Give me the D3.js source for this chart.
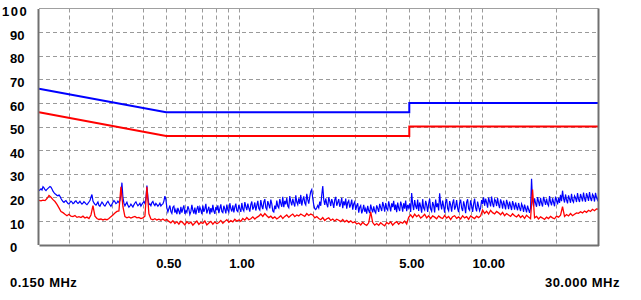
<!DOCTYPE html>
<html><head><meta charset="utf-8">
<script src="https://cdn.jsdelivr.net/npm/d3@7"></script>
<style>
html,body{margin:0;padding:0;background:#fff;}
svg{display:block;}
text{font-family:"Liberation Sans",Arial,sans-serif;font-weight:bold;font-size:13px;fill:#000;}
</style></head>
<body>
<svg id="c" width="641" height="300"></svg>
<script>
// ---- data ----
const freqMin = 0.15, freqMax = 30;           // MHz sweep
const yTicks = [0,10,20,30,40,50,60,70,80,90,100];
const xLabelTicks = [0.5, 1, 5, 10];
const xLabelText = ["0.50","1.00","5.00","10.00"];
const xGridTicks = [0.2,0.3,0.4,0.5,0.6,0.7,0.8,0.9,1,2,3,4,5,6,7,8,9,10,20];
const startLabel = "0.150 MHz", endLabel = "30.000 MHz";

// limit lines [MHz, dBuV]
const limitQP = [[0.15,66],[0.5,56],[5,56],[5,60],[30,60]];
const limitAV = [[0.15,56],[0.5,46],[5,46],[5,50],[30,50]];

// measured peak trace (dBuV), sweep points log-spaced from 0.15 to 30 MHz
const traceBlue = [
22.8,23.2,23.6,23.1,24.5,24,23.2,22.8,23.4,23.8,24.2,24.6,24.3,23.5,22.6,22,21.5,21.2,20.8,20.6,
21,20.4,19.5,18.8,18.2,17.8,18.3,18.6,17.9,17.4,17.2,17.8,18.4,18,17.3,17.6,18.2,18.5,17.8,17.4,
17.8,18.3,17.6,17.1,17.5,18.1,17.7,17.2,16.9,17.4,18,18.6,20,21.2,18.4,17.6,17,16.7,17.3,18,
16.6,16.2,17.2,18,17.4,16.7,16.3,17,17.8,18.3,17.5,16.8,16.2,17.1,17.9,18.6,18.1,17.3,17.6,18.4,
17.8,18.5,21,26.2,20,17.5,16.4,17.2,17.9,16.6,15.8,16.3,17.1,16.5,15.9,16.8,17.6,18.1,17.2,16.4,
16.9,17.5,16.3,17,17.6,18.2,17.4,19.5,25,20,16.8,17.2,16.4,17.8,18.3,17.1,16.5,17.4,16.9,16.2,
16.8,17.5,16.3,16.9,17.2,18.4,20.5,19,15.5,13.8,15.2,16.5,14,13.2,15.8,16.3,13.5,14.8,12.9,15.5,
14.2,12.8,16,13.5,15.2,16.6,12.9,14.4,13.6,16.2,15,12.7,13.9,16.8,14.5,13.1,15.6,12.8,14.9,16.3,
13.4,15.8,14.6,12.9,16.5,13.8,15.1,17.2,13.2,14.7,16,12.8,15.4,13.6,16.8,14.2,13,15.9,14.5,16.6,
13.3,15.2,17,14,13.5,16.4,15,13.2,16.9,14.6,13.8,17.5,15.2,14,16.6,13.6,15.8,17.3,14.4,13.9,
16.8,15.2,13.8,17.6,15,14.2,18,16.1,14.6,17.3,15.5,13.9,16.9,18.2,14.8,15.9,17.8,14.4,16.5,18.5,
15.2,14.6,18.8,16.4,15,17.9,19.2,15.6,14.8,18.4,16.9,15.3,19,17.2,14.2,13.8,16.5,15,18.6,16.2,
15.5,19.3,17.4,16,20.2,15.8,18.5,17,19.8,16.3,15.6,20.5,18.2,16.6,19.4,17.5,16.1,20.8,18,16.9,
19.6,17.2,21,16.5,18.8,20.4,17.6,16.8,21.5,19,17.3,20.2,22.5,23.3,19.5,16.8,15.2,14.8,15.6,16.5,
15.5,18.2,16.4,21,24.8,19,16.8,19.5,17.2,15.8,20,18.4,16.3,19.2,17.6,15.5,18.9,20.2,16.4,17.8,
19.2,16,17.4,19.8,15.4,18.3,16.6,19.5,15.2,17.8,18.6,15.6,16.9,19,14.8,17.2,18.1,14.6,16.4,17.5,
13.5,15.8,16.5,13.2,14.6,16.8,13.9,15.2,13.1,16.4,14.4,13.3,16.9,15,13.6,16.2,14.1,13.4,16.6,15.3,
13.8,17.2,15.6,14.2,18,16.4,13.9,17.6,15.1,14.5,18.3,16.2,14,17.4,15.8,18.5,14.6,16.9,13.7,17.8,
15.4,14.2,18.2,16.6,13.9,17.5,15.2,18.6,14.1,16.8,15.5,17.4,13.8,21.8,17,14.6,18.8,16.3,15,19,
14.2,17.8,16,13.5,19.2,15.4,14.6,18.5,16.9,13.8,17.2,19.4,15,14.1,18,16.6,13.6,19,15.8,17.4,
14.4,21.7,17.3,14.9,18.6,16.2,13.5,17.9,19.3,15.2,14.3,18.4,16.8,13.9,17.5,19.1,14.8,16.1,18.8,15.3,
13.7,17.6,19,15.5,14.2,18.3,16.4,13.3,17.9,19.2,15.1,14.5,18.7,16.6,13.8,17.1,19.4,15.6,14,18.2,
16.2,14.3,15.5,18.8,17.2,20,16.4,19.4,17.8,15.6,19.9,18.2,16.1,20.3,17.4,15.8,19.2,18.5,16.3,19.7,
17,15.4,19.1,17.7,15.2,18.6,16.8,14.9,18.9,17.3,15,18.2,16.4,14.6,18.4,16.9,14.8,17.8,16,14.5,
17.6,15.6,14.2,17.2,16.1,13.8,16.9,15.2,13.6,16.5,14.9,13.4,15.5,27.8,18.5,16.2,19.6,17.4,16,20.1,
18.2,16.3,19.8,17.5,16.1,20.2,18.6,16.8,19.4,17.2,16.4,20.5,18,16.6,19.6,17.9,16.2,20.3,18.7,17,
19.8,17.6,21,18.4,22.8,19.5,17.8,21.2,18.9,17.4,20.8,19.3,17.7,21.5,18.6,17.9,20.6,19.8,18,21.8,
19.2,18,21.4,20,18.3,22,19.5,18.1,21.7,20.4,18.5,22.2,19.7,18.4,21.3,20.6,18.2,21.9,19.9,18.8,
20.5];
// measured average trace (dBuV), sweep points log-spaced from 0.15 to 30 MHz
const traceRed = [
18.7,18.5,18.8,18.6,19.5,20.8,20,19,18.2,17,
15.5,14,13.5,12.8,12.2,12.8,12,11.8,12.3,11.5,
11.8,11.4,12,11.2,11.6,11,12.5,16.5,12,11,
10.6,10.8,10.4,10.7,10.5,11,11.8,12.5,13.3,14,
14.2,24.5,16,11.8,11.3,11.7,11.2,11.6,11.9,11.3,
11.5,11,11.3,12,24.5,13,10.8,10.5,10.9,10.4,
10.7,10.3,10.8,10.2,10.6,9.8,9.2,10.1,8.9,9.7,
8.6,9.9,9.2,8.3,9.7,8.8,9.5,8.2,9.1,9.9,
8.5,9.4,8.9,10,8.3,9.1,9.8,8.6,9.6,8.8,
9.3,10.2,9,9.8,10.5,9.4,10.1,9.6,10.7,9.9,
10.4,9.8,11,10.3,11.4,10.5,10.9,11.7,10.8,11.5,
12,12.9,11.9,13.1,12.2,11.4,12,11.1,11.7,10.8,
11.4,12.2,11,11.9,12.5,11.5,12.3,12.9,11.8,12.5,
12.1,12.9,12.4,11.9,13.1,12.3,12.9,12.5,11.3,11.8,
11,10.5,11.4,10.2,10.9,11.3,10.2,10.8,10,10.7,
10.3,9.7,10.6,9.6,10.2,9.4,10,9.2,9.6,8.7,
9.1,8.3,9.4,8.6,8.1,9.2,13.8,9.3,8.2,8.9,
8.1,9.2,8.5,7.9,9.3,8.7,9.6,8.2,9.1,9.7,
8.6,9.5,9,9.9,8.7,11.5,12.6,11.4,12.9,11.8,
12.5,11.2,11.9,12.8,11.3,12.2,11,12.1,11.6,10.9,
12.1,11.4,11,12.3,11.2,11.9,10.6,11.8,12.2,11.1,
11.7,10.8,12.2,11.3,11.8,10.7,12.1,11.5,11,12,
11.4,12.1,14.6,13.2,14.1,12.9,14.5,13.5,13,14,
13.4,12.6,13.6,12.2,13.1,12.5,11.9,13,12.2,11.7,
12.6,11.4,12.2,11.1,12.4,11.6,10.9,23.3,11.3,11.9,
10.8,11.7,11.2,10.6,11.6,11,11.9,11.3,10.9,12,
11.6,12.4,16,11.9,12.7,12.1,13.1,12.2,12.8,13.4,
13.2,13.9,13.4,14.2,13.6,14.5,14,14.9,14.3,15.1,
15];

// ---- chart ----
const svg = d3.select("#c");
const L = 39, R = 598.5, T = 8.5, B = 244.5;
const x = d3.scaleLog().domain([freqMin, freqMax]).range([L, R]);
const y = d3.scaleLinear().domain([0, 100]).range([B, T]);

const sweepF = (n, i) => freqMin * Math.pow(freqMax / freqMin, i / (n - 1));
const toPts = arr => arr.map((v, i) => [sweepF(arr.length, i), v]);

// grid
const g = svg.append("g");
g.selectAll("line.h").data(yTicks.filter(d => d > 0 && d < 100)).enter().append("line")
  .attr("x1", L).attr("x2", R).attr("y1", d => Math.round(y(d)) + 0.5).attr("y2", d => Math.round(y(d)) + 0.5)
  .attr("stroke", "#9a9a9a").attr("stroke-width", 1).attr("stroke-dasharray", "4,3");
g.selectAll("line.v").data(xGridTicks).enter().append("line")
  .attr("x1", d => Math.round(x(d)) + 0.5).attr("x2", d => Math.round(x(d)) + 0.5)
  .attr("y1", T).attr("y2", B)
  .attr("stroke", "#9a9a9a").attr("stroke-width", 1).attr("stroke-dasharray", "4,3");

// top border (light)
svg.append("line").attr("x1", L).attr("x2", R).attr("y1", T).attr("y2", T)
  .attr("stroke", "#a0a0a0").attr("stroke-width", 1);

// traces
const line = d3.line().x(d => x(d[0])).y(d => y(d[1]));
svg.append("path").datum(toPts(traceBlue)).attr("d", line)
  .attr("fill", "none").attr("stroke", "#0000ff").attr("stroke-width", 1.2);
svg.append("path").datum(toPts(traceRed)).attr("d", line)
  .attr("fill", "none").attr("stroke", "#ff0000").attr("stroke-width", 1.3);

// limits
svg.append("path").datum(limitQP).attr("d", line)
  .attr("fill", "none").attr("stroke", "#0000ff").attr("stroke-width", 2);
svg.append("path").datum(limitAV).attr("d", line)
  .attr("fill", "none").attr("stroke", "#ff0000").attr("stroke-width", 2);

// axes borders
const yAxis = d3.axisLeft(y).tickValues([]).tickSize(0);
svg.append("g").attr("transform", `translate(${L - 1},0)`).call(yAxis)
  .call(s => s.select(".domain").attr("stroke", "#707070").attr("stroke-width", 2));
const xAxis = d3.axisBottom(x).tickValues([]).tickSize(0);
svg.append("g").attr("transform", `translate(0,${B + 0.5})`).call(xAxis)
  .call(s => s.select(".domain").attr("stroke", "#707070").attr("stroke-width", 2));
svg.append("line").attr("x1", R).attr("x2", R).attr("y1", T).attr("y2", B + 1.5)
  .attr("stroke", "#707070").attr("stroke-width", 2);

// y labels
svg.selectAll("text.yl").data(yTicks).enter().append("text")
  .attr("x", d => d === 100 ? 2 : 10)
  .attr("y", d => y(d) + 7.6)
  .style("letter-spacing", d => d === 100 ? "1.5px" : null)
  .text(d => d);

// x labels
svg.selectAll("text.xl").data(xLabelTicks).enter().append("text")
  .attr("x", d => x(d) - 10).attr("y", 268)
  .text((d, i) => xLabelText[i]);

svg.append("text").attr("x", 10).attr("y", 287.4).style("letter-spacing", "0.5px").text(startLabel);
svg.append("text").attr("x", 620).attr("y", 287.4).attr("text-anchor", "end").style("letter-spacing", "0.5px").text(endLabel);
</script>
</body></html>
